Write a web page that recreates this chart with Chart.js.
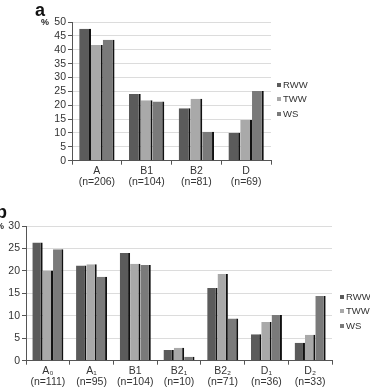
<!DOCTYPE html>
<html><head><meta charset="utf-8">
<script src="https://cdn.jsdelivr.net/npm/chart.js@4"></script>
<style>
html,body{margin:0;padding:0;background:#fff;width:370px;height:388px;overflow:hidden;font-family:"Liberation Sans",Arial,sans-serif;}
.box{position:absolute;left:0;width:370px;}
.lbl{position:absolute;font-weight:bold;color:#111;}
.pct{position:absolute;font-size:9px;font-weight:bold;color:#222;}
.leg{position:absolute;font-size:9.5px;color:#333;line-height:10px;white-space:nowrap;}
.leg i{display:inline-block;width:4px;height:4px;margin-right:2px;vertical-align:1px;}
</style></head><body>
<div class="box" style="top:0;height:190px"><canvas id="ca"></canvas></div>
<div class="box" style="top:190px;height:198px"><canvas id="cb"></canvas></div>
<div class="lbl" style="left:35px;top:0px;font-size:18px">a</div>
<div class="pct" style="left:41px;top:17px">%</div>
<div class="lbl" style="left:-4px;top:202px;font-size:18px">b</div>
<div class="pct" style="left:-4px;top:221px">%</div>
<div id="lega"></div><div id="legb"></div>
<script>
const seriesNames = ["RWW","TWW","WS"];
const seriesColors = ["#5b5b5b","#a9a9a9","#7a7a7a"];

const catsA = [["A","(n=206)"],["B1","(n=104)"],["B2","(n=81)"],["D","(n=69)"]];
const rwwA = [47.6, 24.0, 18.9, 10.1];
const twwA = [41.7, 21.8, 22.3, 14.7];
const wsA  = [43.6, 21.3, 10.4, 25.1];

const catsB = [["A\u2080","(n=111)"],["A\u2081","(n=95)"],["B1","(n=104)"],["B2\u2081","(n=10)"],["B2\u2082","(n=71)"],["D\u2081","(n=36)"],["D\u2082","(n=33)"]];
const rwwB = [26.3, 21.2, 24.0, 2.4, 16.2, 5.9, 4.0];
const twwB = [20.1, 21.5, 21.6, 2.9, 19.3, 8.6, 5.8];
const wsB  = [24.8, 18.7, 21.3, 0.9, 9.4, 10.2, 14.4];

const yMaxA = 50, yMaxB = 30, yStep = 5;

function makeDatasets(vals){
  return vals.map((v,i)=>({
    label: seriesNames[i], data: v, backgroundColor: seriesColors[i],
    borderColor: "#111", borderWidth: {top:0,left:0,bottom:0,right:2},
    borderSkipped: false, categoryPercentage: 0.71, barPercentage: 1.0
  }));
}

function makeChart(id, cats, vals, yMax, pad, yW, xH){
  return new Chart(document.getElementById(id), {
    type: "bar",
    data: { labels: cats, datasets: makeDatasets(vals) },
    options: {
      responsive: true, maintainAspectRatio: false, animation: false,
      layout: { padding: pad },
      plugins: { legend: { display: false }, tooltip: { enabled: false } },
      scales: {
        x: {
          grid: { display: true, drawOnChartArea: false, offset: true, tickLength: 4, tickColor: "#555" },
          border: { color: "#555", width: 1 },
          ticks: { color: "#333", font: { family: "Liberation Sans", size: 10.5, lineHeight: 1.05 }, padding: 1, maxRotation: 0, autoSkip: false },
          afterFit: s => { s.height = xH; }
        },
        y: {
          min: 0, max: yMax,
          grid: { color: "#dcdcdc", tickLength: 4, tickColor: "#555" },
          border: { color: "#555", width: 1 },
          ticks: { stepSize: yStep, autoSkip: false, color: "#333", font: { family: "Liberation Sans", size: 10.5 }, padding: 2 },
          afterFit: s => { s.width = yW; }
        }
      }
    }
  });
}

makeChart("ca", catsA, [rwwA, twwA, wsA], yMaxA, {top:22,right:99,bottom:0,left:0}, 72, 29.3);
makeChart("cb", catsB, [rwwB, twwB, wsB], yMaxB, {top:36,right:38,bottom:0,left:0}, 26, 27.3);

function legend(id, x, ys){
  const el = document.getElementById(id);
  seriesNames.forEach((n,i)=>{
    const d = document.createElement("div");
    d.className = "leg";
    d.style.left = x + "px"; d.style.top = (ys[i]-5) + "px";
    d.innerHTML = '<i style="background:' + seriesColors[i] + '"></i>' + n;
    el.appendChild(d);
  });
}
legend("lega", 277, [85, 99.3, 113.7]);
legend("legb", 340, [296.7, 311.3, 325.7]);
</script>
</body></html>
